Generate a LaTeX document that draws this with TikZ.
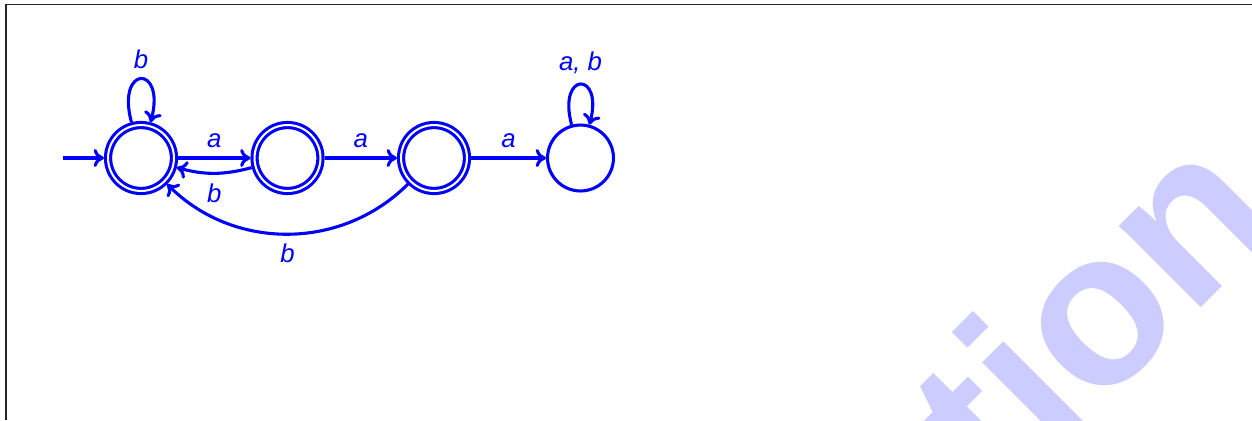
\documentclass[tikz,border=0pt]{standalone}
\usepackage{fontspec}
\setmainfont{Liberation Sans}
\usetikzlibrary{positioning, arrows.meta}

\begin{document}
\begin{tikzpicture}[
    st/.style={circle, draw=blue, line width=1.2pt, minimum size=0.9cm,
               inner sep=0pt},
    acc/.style={st, double=white, double distance=0.8pt, outer sep=1.6pt},
    tr/.style={-{To[length=4pt, width=7pt]}, draw=blue, line width=1.2pt},
    lbl/.style={font=\itshape, text=blue},
    wmark/.style={font=\bfseries\fontsize{85}{85}\selectfont, text=blue!20,
                  rotate=45, inner sep=0pt},
    every loop/.style={},
]

% Positions
\pgfmathsetmacro{\xA}{1.925}
\pgfmathsetmacro{\xB}{3.925}
\pgfmathsetmacro{\xC}{5.925}
\pgfmathsetmacro{\xD}{7.925}
\pgfmathsetmacro{\yS}{-2.157}
\pgfmathsetmacro{\W}{17.092}
\pgfmathsetmacro{\H}{-5.734}

\useasboundingbox (0,0) rectangle (\W,\H);

% ===== PAGE FRAME =====
\draw[black!85, line width=0.5pt] (\W,-0.064) -- (0.082,-0.064) -- (0.082,\H);

% ===== WATERMARK =====
\begin{scope}
    \clip (0,0) rectangle (\W,\H);
    \node[wmark, anchor=base] (wm) at (15.61,-4.99) {tion};
\end{scope}

% ===== STATES =====
\coordinate (init) at (0.86,\yS);
\node[acc] (q0) at (\xA,\yS) {};
\node[acc] (q1) at (\xB,\yS) {};
\node[acc] (q2) at (\xC,\yS) {};
\node[st]  (q3) at (\xD,\yS) {};

% ===== TRANSITIONS =====
\draw[tr] (init) -- (q0);
\draw[tr] (q0) -- node[lbl, above] {a} (q1);
\draw[tr] (q1) to[bend left=15] node[lbl, below] {b} (q0);
\draw[tr] (q1) -- node[lbl, above] {a} (q2);
\draw[tr] (q2) -- node[lbl, above] {a} (q3);
\draw[tr] (q2) to[bend left=45] node[lbl, below] {b} (q0);

% Self loops
\draw[tr] (q0) to[loop above] node[lbl, above] {b} (q0);
\draw[tr] (q3) to[loop above] node[lbl, above] {a, b} (q3);

\end{tikzpicture}
\end{document}
